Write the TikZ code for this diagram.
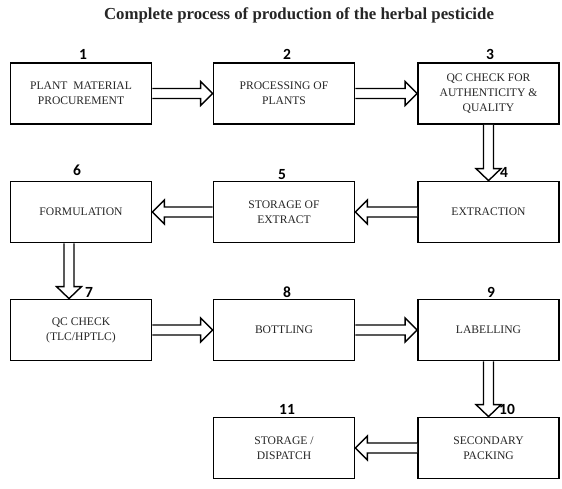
\documentclass[tikz,border=0pt]{standalone}
\usepackage{fontspec}
\setmainfont{Liberation Serif}
\newfontfamily\numfont{Carlito}
\usetikzlibrary{calc}
\definecolor{txt}{HTML}{262626}
\tikzset{
  stepbox/.style={draw=black, line width=1.8pt, minimum width=141pt, minimum height=61pt,
    inner sep=0pt, align=center, font=\fontsize{11.6}{14.8}\selectfont, text=txt},
  numlab/.style={font=\numfont\bfseries\fontsize{15.5}{15.5}\selectfont, inner sep=0pt, anchor=base},
  hollow/.style={draw=black, line width=1.4pt, line join=miter, fill=white},
  titlelab/.style={font=\bfseries\fontsize{16.8}{18}\selectfont, text=txt, inner sep=0pt}
}
\newcommand{\rarr}[2]{\draw[hollow] let \p1=(#1.east), \p2=(#2.west) in
  (\x1,\y1+5pt) -- (\x2-12pt,\y1+5pt) -- (\x2-12pt,\y1+12pt) -- (\x2,\y1) -- (\x2-12pt,\y1-12pt) -- (\x2-12pt,\y1-5pt) -- (\x1,\y1-5pt);}
\newcommand{\larr}[2]{\draw[hollow] let \p1=(#1.west), \p2=(#2.east) in
  (\x1,\y1+5pt) -- (\x2+12pt,\y1+5pt) -- (\x2+12pt,\y1+12pt) -- (\x2,\y1) -- (\x2+12pt,\y1-12pt) -- (\x2+12pt,\y1-5pt) -- (\x1,\y1-5pt);}
\newcommand{\darr}[3]{\draw[hollow] let \p1=(#1.south), \p2=(#2.north) in
  (\x1+#3-5pt,\y1) -- (\x1+#3-5pt,\y2+12pt) -- (\x1+#3-12.5pt,\y2+12pt) -- (\x1+#3,\y2) -- (\x1+#3+12.5pt,\y2+12pt) -- (\x1+#3+5pt,\y2+12pt) -- (\x1+#3+5pt,\y1);}
\begin{document}
\begin{tikzpicture}[x=1pt,y=-1pt]
\useasboundingbox[fill=white] (0,0) rectangle (562,488);
\node[titlelab] (title) at (299,15) {Complete process of production of the herbal pesticide};
% boxes
\node[stepbox] (b1) at (81,93.5) {PLANT\hspace{0.5em}MATERIAL\\PROCUREMENT};
\node[stepbox] (b2) at (284,93.5) {PROCESSING OF\\PLANTS};
\node[stepbox] (b3) at (488.5,93.5) {QC CHECK FOR\\AUTHENTICITY \&\\QUALITY};
\node[stepbox] (b4) at (488.5,212) {EXTRACTION};
\node[stepbox] (b5) at (284,212) {STORAGE OF\\EXTRACT};
\node[stepbox] (b6) at (81,212) {FORMULATION};
\node[stepbox] (b7) at (81,330) {QC CHECK\\(TLC/HPTLC)};
\node[stepbox] (b8) at (284,330) {BOTTLING};
\node[stepbox] (b9) at (488.5,330) {LABELLING};
\node[stepbox] (b10) at (488.5,448) {SECONDARY\\PACKING};
\node[stepbox] (b11) at (284,448) {STORAGE /\\DISPATCH};
% numbers
\node[numlab] (n1) at (83,59) {1};
\node[numlab] (n2) at (287,59) {2};
\node[numlab] (n3) at (490,59) {3};
\node[numlab] (n6) at (77,175) {6};
\node[numlab] (n5) at (282,179) {5};
\node[numlab] (n4) at (504,177) {4};
\node[numlab] (n7) at (89,297) {7};
\node[numlab] (n8) at (287,297) {8};
\node[numlab] (n9) at (491,297) {9};
\node[numlab] (n11) at (287,414) {11};
\node[numlab] (n10) at (507,414) {10};
% arrows
\rarr{b1}{b2}
\rarr{b2}{b3}
\darr{b3}{b4}{0pt}
\larr{b4}{b5}
\larr{b5}{b6}
\darr{b6}{b7}{-12pt}
\rarr{b7}{b8}
\rarr{b8}{b9}
\darr{b9}{b10}{0pt}
\larr{b10}{b11}
\end{tikzpicture}
\end{document}
